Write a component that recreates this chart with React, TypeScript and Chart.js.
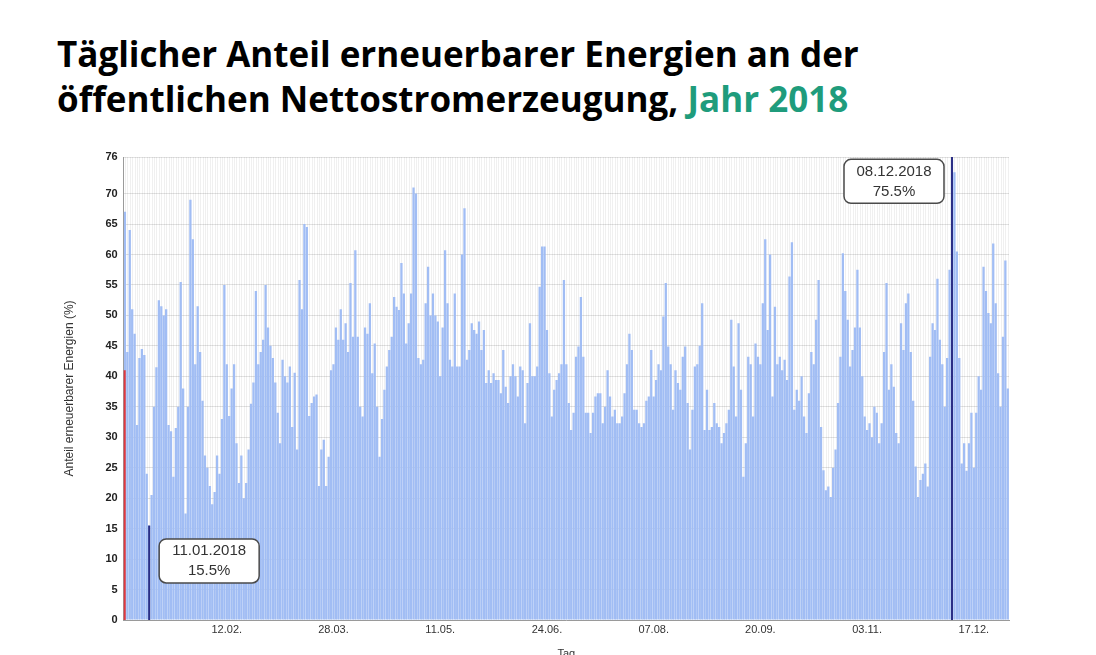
import React, { useEffect, useRef } from 'react';
import { Chart, registerables } from 'chart.js';

Chart.register(...registerables);

// Daily share of renewables in public net electricity generation 2018 (%)
const shareJan: number[] = [67, 44, 64, 51, 47, 32, 43, 44.5, 43.5, 24, 15.5, 20.5, 35, 41.5, 52.5, 51.5, 50, 51, 32, 31, 23.5, 31.5, 35, 55.5, 38, 17.5, 35, 69, 62.5, 42, 51.5];
const shareFebMar: number[] = [44, 36, 27, 25, 22, 19, 21, 27, 24, 33, 55, 42, 33.5, 38, 42, 29, 22.5, 27, 20, 22.5, 28, 35.5, 39, 54, 42, 44, 46, 55, 48, 45, 43, 39, 34, 29,
  42.7, 40, 39, 41.6, 31.7, 40.6, 28, 55.8, 51, 65, 64.5, 33.5, 35.6, 36.7, 37, 22, 28, 29.6, 22, 26.8, 41, 42, 48, 46, 51, 46, 48.7, 44, 55.3, 46.5, 60.7, 46.5, 35];
const shareAprMay: number[] = [33.4, 48, 47, 52, 40.5, 45.4, 35, 26.8, 33, 37.8, 41.6, 44.3, 46.5, 53, 51.4, 50.9, 58.6, 53.6, 45.4, 48.7, 53.6, 71, 70, 43, 42, 42.7, 52, 58, 50, 53.6, 50, 49, 40, 48,
  60.7, 52, 42.7, 41.6, 53.6, 41.6, 41.6, 60, 67.6, 42.7, 44.3, 48.7, 47.6, 47, 49, 44.3, 47.6, 38.9, 41, 38.9, 40.5, 39.4, 39.4, 37.2, 44.3, 38.3, 35.6, 40, 42, 40, 36.7, 41.6, 41, 32.3];
const shareJunAug: number[] = [38.9, 48.7, 40, 40, 41.6, 54.7, 61.3, 61.3, 47.6, 40.5, 33.4, 37.8, 39.4, 40.5, 42, 55.8, 42, 35.6, 31.2, 34, 43.2, 44.9, 53, 43.2, 34, 34, 30.7, 34, 36.7, 37.2, 37.2, 32.3, 35, 41,
  36.7, 33.4, 34.5, 32.3, 32.3, 33.4, 37.2, 42, 47, 44.3, 34.5, 34.5, 32.3, 31.7, 32.3, 36, 36.7, 44.3, 36.7, 39.4, 42, 41, 49.8, 55.3, 44.9, 42, 34.5, 41, 38.9, 37.8, 43.2, 44.9, 35.6, 28];
const shareSepOct: number[] = [34.5, 41.6, 42, 45, 52, 31.2, 37.8, 31.2, 31.7, 35.6, 32.3, 31.7, 29, 30.7, 32.3, 34.5, 49.3, 41.6, 33.4, 48.7, 37.8, 23.5, 29, 43.2, 42, 33.4, 45.4, 43.2, 42, 52, 62.5, 47.6, 60, 36.7,
  51.4, 42, 43.2, 41, 42.7, 39.4, 56.4, 62, 34.5, 37.8, 36, 40, 33.4, 30.7, 37.2, 44, 42, 49.3, 55.8, 31.7, 24.6, 21.3, 21.9, 20.2, 25, 28, 35.6, 43.2, 60.2, 54, 49.3, 41.6, 44.3];
const shareNovDec: number[] = [48, 57.5, 48, 40, 33.4, 31.2, 32.3, 30, 35, 34, 29, 32.3, 44, 55.3, 37.8, 42, 38.3, 30.7, 29, 48.7, 44.3, 52, 53.6, 44, 36, 25.2, 20.2, 23, 24, 25.7, 21.9, 43.2, 48.7, 47.6,
  56, 46, 42, 35, 43, 57.5, 75.5, 73.5, 60.5, 43, 25.7, 29, 24.5, 29, 34, 25, 34, 40, 37.8, 58, 54, 50.4, 48.7, 61.8, 52, 40.5, 35, 46.5, 59, 38];

const shares: number[] = [...shareJan, ...shareFebMar, ...shareAprMay, ...shareJunAug, ...shareSepOct, ...shareNovDec];

const pad = (n: number) => (n < 10 ? '0' + n : '' + n);
const days: string[] = shares.map((_, i) => {
  const d = new Date(Date.UTC(2018, 0, 1 + i));
  return pad(d.getUTCDate()) + '.' + pad(d.getUTCMonth() + 1) + '.';
});

const xTickLabels: string[] = ['12.02.', '28.03.', '11.05.', '24.06.', '07.08.', '20.09.', '03.11.', '17.12.'];
const markerDays: string[] = ['11.01.', '08.12.'];
const markerLabels: string[] = ['11.01.2018', '08.12.2018'];
const markerValues: number[] = [15.5, 75.5];
const redLineValue = 41;

const yMax = 76;
const yStep = 5;

const BAR = '#a1bdf4';
const NAVY = '#2b2f86';
const FONT = '"Liberation Sans", Arial, sans-serif';

export default function App() {
  const ref = useRef<HTMLCanvasElement | null>(null);

  useEffect(() => {
    document.body.style.margin = '0';
    const canvas = ref.current;
    if (!canvas) return;

    const decor = {
      id: 'decor',
      beforeDatasetsDraw(chart: any) {
        const { ctx, chartArea: a, scales } = chart;
        const x = scales.x;
        ctx.save();
        ctx.strokeStyle = 'rgba(0,0,0,0.06)';
        ctx.lineWidth = 1;
        for (let i = 0; i < days.length; i++) {
          const px = Math.round(x.getPixelForValue(i)) + 0.5;
          ctx.beginPath();
          ctx.moveTo(px, a.top);
          ctx.lineTo(px, a.bottom);
          ctx.stroke();
        }
        ctx.restore();
      },
      afterDatasetsDraw(chart: any) {
        const { ctx, chartArea: a, scales } = chart;
        const x = scales.x;
        const y = scales.y;
        ctx.save();
        ctx.strokeStyle = '#e0393e';
        ctx.lineWidth = 2;
        ctx.beginPath();
        ctx.moveTo(a.left + 1, y.getPixelForValue(0));
        ctx.lineTo(a.left + 1, y.getPixelForValue(redLineValue));
        ctx.stroke();

        markerDays.forEach((md, j) => {
          const idx = days.indexOf(md);
          const px = x.getPixelForValue(idx);
          const top = j === 1 ? a.top : y.getPixelForValue(markerValues[j]);
          ctx.strokeStyle = NAVY;
          ctx.lineWidth = 2;
          ctx.beginPath();
          ctx.moveTo(px, y.getPixelForValue(0));
          ctx.lineTo(px, top);
          ctx.stroke();

          const w = 100;
          const h = 44;
          const bx = j === 0 ? px + 10 : px - 8 - w;
          const cy = j === 0 ? y.getPixelForValue(9.7) : y.getPixelForValue(72);
          const by = cy - h / 2;
          ctx.fillStyle = '#ffffff';
          ctx.strokeStyle = '#4a4a4a';
          ctx.lineWidth = 1.5;
          ctx.beginPath();
          (ctx as any).roundRect(bx, by, w, h, 7);
          ctx.fill();
          ctx.stroke();
          ctx.fillStyle = '#333';
          ctx.font = '15px ' + FONT;
          ctx.textAlign = 'center';
          ctx.textBaseline = 'middle';
          ctx.fillText(markerLabels[j], bx + w / 2, cy - 10);
          ctx.fillText(markerValues[j].toFixed(1) + '%', bx + w / 2, cy + 10);
        });
        ctx.restore();
      },
    };

    const chart = new Chart(canvas, {
      type: 'bar',
      data: {
        labels: days,
        datasets: [
          {
            data: shares,
            backgroundColor: BAR,
            borderWidth: 0,
            barPercentage: 1,
            categoryPercentage: 0.94,
          },
        ],
      },
      options: {
        animation: false,
        responsive: false,
        maintainAspectRatio: false,
        layout: { padding: { left: 62, right: 87, top: 17, bottom: 0 } },
        plugins: { legend: { display: false }, tooltip: { enabled: false } },
        scales: {
          x: {
            grid: { display: false, drawTicks: false },
            border: { color: '#9a9a9a' },
            ticks: {
              autoSkip: false,
              maxRotation: 0,
              minRotation: 0,
              color: '#333',
              font: { family: FONT, size: 11 },
              padding: 3,
              callback: (_v: any, i: number) => (xTickLabels.includes(days[i]) ? days[i] : ''),
            },
            title: {
              display: true,
              text: 'Tag',
              color: '#333',
              font: { family: FONT, size: 11 },
              padding: { top: 0, bottom: -6 },
            },
            afterFit: (s: any) => {
              s.height = 35;
            },
          },
          y: {
            min: 0,
            max: yMax,
            ticks: {
              stepSize: yStep,
              color: '#222',
              font: { family: FONT, size: 11, weight: 'bold' },
              padding: 6,
            },
            grid: { color: '#e2e2e2', drawTicks: false },
            border: { color: '#9a9a9a' },
            title: {
              display: true,
              text: 'Anteil erneuerbarer Energien (%)',
              color: '#333',
              font: { family: FONT, size: 12 },
              padding: 0,
            },
            afterFit: (s: any) => {
              s.width = 123.7 - 62;
            },
          },
        },
      },
      plugins: [decor],
    });
    return () => chart.destroy();
  }, []);

  return (
    <div style={{ position: 'fixed', left: 0, top: 0, width: 1096, height: 655, background: '#fff', overflow: 'hidden' }}>
      <div
        style={{
          position: 'absolute',
          left: 57,
          top: 31,
          fontFamily: '"Open Sans", "Noto Sans", sans-serif',
          fontWeight: 700,
          fontSize: 35,
          lineHeight: '45px',
          color: '#000',
          whiteSpace: 'nowrap',
          letterSpacing: '0px',
        }}
      >
        Täglicher Anteil erneuerbarer Energien an der
        <br />
        öffentlichen Nettostromerzeugung, <span style={{ color: '#1f9c7c' }}>Jahr 2018</span>
      </div>
      <canvas ref={ref} width={1096} height={515} style={{ position: 'absolute', left: 0, top: 140, width: 1096, height: 515 }} />
    </div>
  );
}
